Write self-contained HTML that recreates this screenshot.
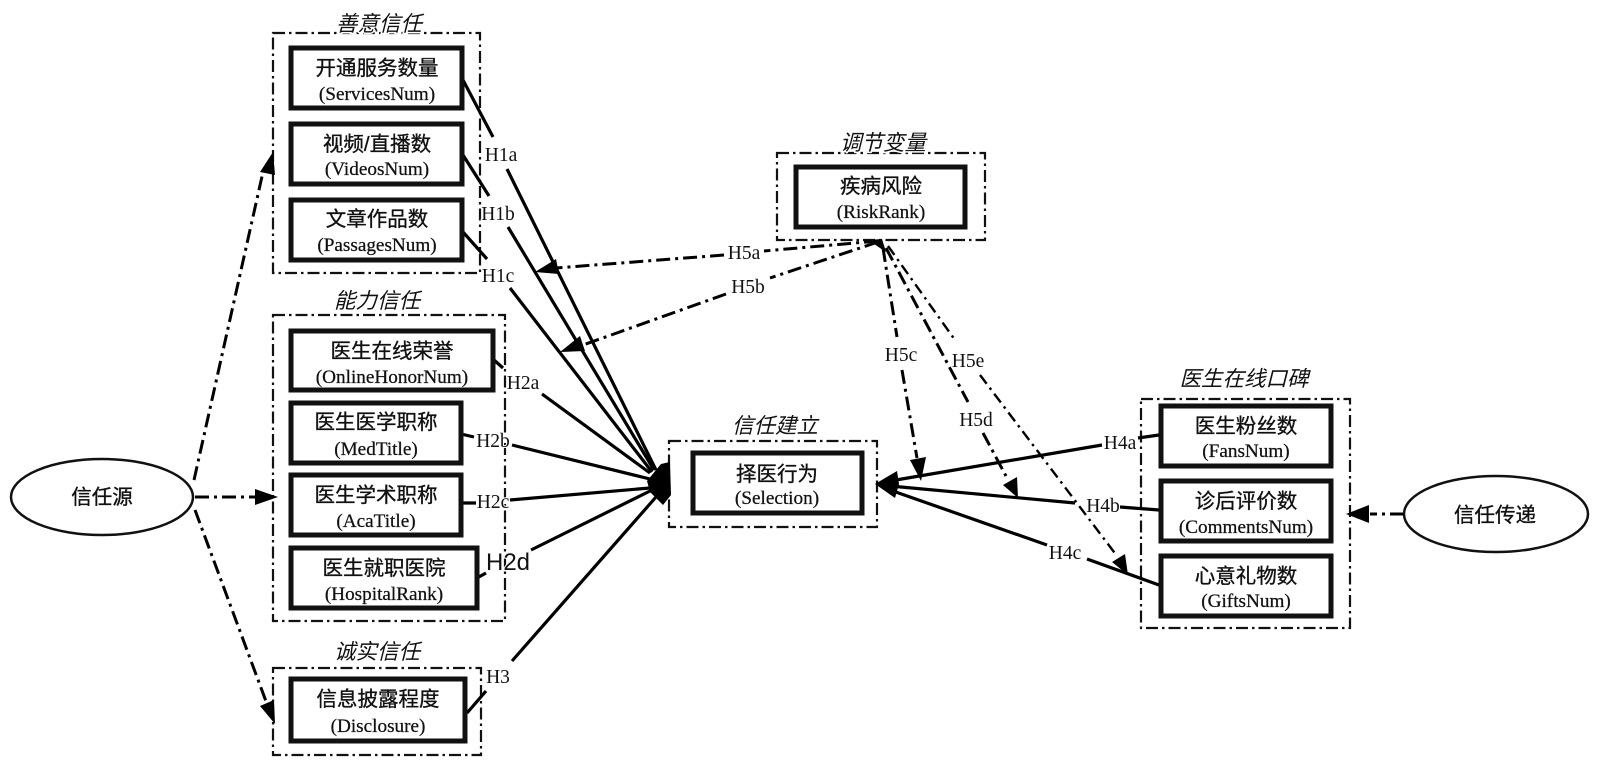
<!DOCTYPE html>
<html><head><meta charset="utf-8"><style>
html,body{margin:0;padding:0;background:#fff;width:1600px;height:770px;overflow:hidden}
svg{display:block;filter:blur(.35px)}
.g{fill:none;stroke:#111;stroke-width:2.2;stroke-dasharray:12 4 2.5 4}
.n{fill:#fff;stroke:#111;stroke-width:5}
.e{fill:#fff;stroke:#111;stroke-width:2.5}
.s{stroke:#000;stroke-width:3.2;fill:none}
.d{stroke:#000;stroke-width:3;fill:none;stroke-dasharray:14 5 3 5}
.dt{stroke:#000;stroke-width:2.4;fill:none;stroke-dasharray:11 5 2.5 5}
.c{font-family:"Liberation Sans","Noto Sans CJK SC",sans-serif;font-size:20.5px;fill:#111;text-anchor:middle;stroke:#111;stroke-width:.35}
.l{font-family:"Liberation Serif",serif;font-size:19.2px;fill:#111;text-anchor:middle;stroke:#111;stroke-width:.25}
.t{font-family:"Liberation Sans","Noto Sans CJK SC",sans-serif;font-size:21.5px;font-style:italic;fill:#111;text-anchor:middle;paint-order:stroke;stroke:#fff;stroke-width:3}
.h{font-family:"Liberation Serif",serif;font-size:19.5px;fill:#111;text-anchor:middle;paint-order:stroke;stroke:#fff;stroke-width:2}
</style></head><body>
<svg width="1600" height="770" viewBox="0 0 1600 770" xmlns="http://www.w3.org/2000/svg">
<rect width="1600" height="770" fill="#fff"/>

<!-- group frames -->
<rect class="g" x="273" y="33" width="207" height="240"/>
<rect class="g" x="273" y="315" width="232" height="306"/>
<rect class="g" x="273" y="668" width="208" height="87"/>
<rect class="g" x="669" y="441" width="208" height="86"/>
<rect class="g" x="777" y="153" width="208" height="87"/>
<rect class="g" x="1141" y="399" width="209" height="229"/>

<!-- solid connectors -->
<path class="s" d="M463 80L493 137M507 169L656 470"/>
<path class="s" d="M463 155L489 196M508 227L654 470"/>
<path class="s" d="M463 232L487 259M510 288L652 472"/>
<path class="s" d="M494 360L503 368M542 394L650 473"/>
<path class="s" d="M461 434L474 437M512 445L650 479"/>
<path class="s" d="M461 503L476 503M510 500L650 488"/>
<path class="s" d="M477 578L486 573M531 550L650 491"/>
<path class="s" d="M467 713L486 691M512 661L656 497"/>
<polygon points="647,481 661,464 670,462 671,495 663,505 650,492" fill="#000"/>

<path class="s" d="M1159 435L1138 438M1102 445L890 481"/>
<path class="s" d="M1159 510L1120 507M1075 503L890 486"/>
<path class="s" d="M1159 585L1087 559M1047 545L890 490"/>
<polygon points="875,484 897,471 899,484 895,498" fill="#000"/>

<!-- dash-dot arrows from source -->
<path class="d" d="M194 480L263 172"/>
<polygon points="273,152 275,175 260,172" fill="#000"/>
<path class="d" d="M195 497L258 497"/>
<polygon points="278,497 255,489 255,505" fill="#000"/>
<path class="d" d="M195 510L267 704"/>
<polygon points="275,724 260,706 274,700" fill="#000"/>
<path class="d" d="M1404 514L1370 514"/>
<polygon points="1346,514 1369,505 1369,523" fill="#000"/>

<!-- moderator arrows -->
<polygon points="868,240 882,239 886,252" fill="#000"/>
<path class="d" d="M878 241L764 251M724 255L556 268"/>
<polygon points="535,272 556,259 559,274" fill="#000"/>
<path class="d" d="M878 242L770 278M726 294L583 345"/>
<polygon points="560,352 580,336 585,351" fill="#000"/>
<path class="d" d="M883 248L897 337M902 370L917 458"/>
<polygon points="921,481 910,460 926,457" fill="#000"/>
<path class="d" d="M886 248L968 402M983 433L1006 476"/>
<polygon points="1018,498 1003,485 1017,477" fill="#000"/>
<path class="dt" d="M888 246L955 340M980 375L1117 556"/>
<polygon points="1128,575 1112,562 1125,554" fill="#000"/>

<!-- nodes -->
<rect class="n" x="291" y="48" width="171" height="60"/>
<rect class="n" x="291" y="124" width="171" height="60"/>
<rect class="n" x="291" y="200" width="171" height="60"/>
<rect class="n" x="291" y="331" width="202" height="59"/>
<rect class="n" x="291" y="403" width="170" height="60"/>
<rect class="n" x="291" y="475" width="170" height="60"/>
<rect class="n" x="291" y="548" width="186" height="60"/>
<rect class="n" x="291" y="679" width="174" height="62"/>
<rect class="n" x="693" y="453" width="169" height="60"/>
<rect class="n" x="796" y="167" width="169" height="60"/>
<rect class="n" x="1161" y="406" width="170" height="60"/>
<rect class="n" x="1161" y="481" width="170" height="60"/>
<rect class="n" x="1161" y="556" width="170" height="60"/>
<ellipse class="e" cx="102" cy="497" rx="91" ry="38"/>
<ellipse class="e" cx="1496" cy="514" rx="92" ry="38"/>

<!-- titles -->
<text class="t" x="379" y="31">善意信任</text>
<text class="t" x="377" y="308">能力信任</text>
<text class="t" x="377" y="659">诚实信任</text>
<text class="t" x="775" y="433">信任建立</text>
<text class="t" x="883" y="150">调节变量</text>
<text class="t" x="1244" y="386">医生在线口碑</text>

<!-- node text -->
<text class="c" x="377" y="75">开通服务数量</text><text class="l" x="377" y="100">(ServicesNum)</text>
<text class="c" x="377" y="151">视频/直播数</text><text class="l" x="377" y="175">(VideosNum)</text>
<text class="c" x="377" y="226">文章作品数</text><text class="l" x="377" y="251">(PassagesNum)</text>
<text class="c" x="392" y="358">医生在线荣誉</text><text class="l" x="392" y="383">(OnlineHonorNum)</text>
<text class="c" x="376" y="429">医生医学职称</text><text class="l" x="376" y="455">(MedTitle)</text>
<text class="c" x="376" y="502">医生学术职称</text><text class="l" x="376" y="527">(AcaTitle)</text>
<text class="c" x="384" y="575">医生就职医院</text><text class="l" x="384" y="600">(HospitalRank)</text>
<text class="c" x="378" y="706">信息披露程度</text><text class="l" x="378" y="732">(Disclosure)</text>
<text class="c" x="777" y="481">择医行为</text><text class="l" x="777" y="504">(Selection)</text>
<text class="c" x="881" y="193">疾病风险</text><text class="l" x="881" y="218">(RiskRank)</text>
<text class="c" x="1246" y="433">医生粉丝数</text><text class="l" x="1246" y="457">(FansNum)</text>
<text class="c" x="1246" y="508">诊后评价数</text><text class="l" x="1246" y="533">(CommentsNum)</text>
<text class="c" x="1246" y="583">心意礼物数</text><text class="l" x="1246" y="607">(GiftsNum)</text>
<text class="c" x="102" y="504">信任源</text>
<text class="c" x="1495" y="522">信任传递</text>

<!-- hypothesis labels -->
<text class="h" x="501" y="161">H1a</text>
<text class="h" x="498" y="220">H1b</text>
<text class="h" x="498" y="282">H1c</text>
<text class="h" x="523" y="389">H2a</text>
<text class="h" x="493" y="447">H2b</text>
<text class="h" x="493" y="508">H2c</text>
<text x="508" y="570" style="font-family:'Liberation Sans',sans-serif;font-size:24px;fill:#111;text-anchor:middle;paint-order:stroke;stroke:#fff;stroke-width:2">H2d</text>
<text class="h" x="498" y="683">H3</text>
<text class="h" x="744" y="259">H5a</text>
<text class="h" x="748" y="293">H5b</text>
<text class="h" x="901" y="361">H5c</text>
<text class="h" x="968" y="367">H5e</text>
<text class="h" x="976" y="426">H5d</text>
<text class="h" x="1120" y="449">H4a</text>
<text class="h" x="1103" y="512">H4b</text>
<text class="h" x="1065" y="559">H4c</text>
</svg>
</body></html>
